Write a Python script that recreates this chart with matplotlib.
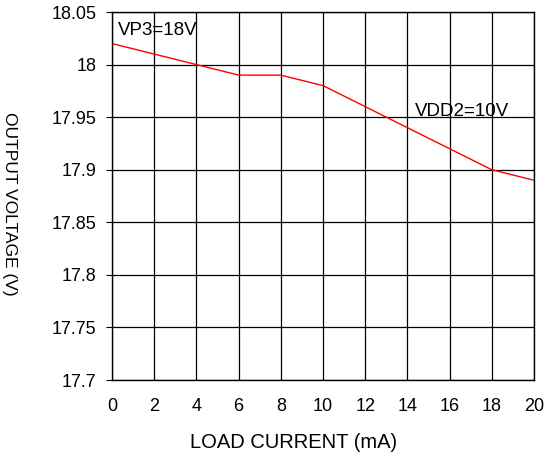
import matplotlib
matplotlib.use('Agg')
import matplotlib.pyplot as plt

plt.rcParams['font.family'] = ['Liberation Sans', 'DejaVu Sans']

current = [0, 2, 4, 6, 8, 10, 12, 14, 16, 18, 20]
voltage = [18.02, 18.01, 18.00, 17.99, 17.99, 17.98, 17.96, 17.94, 17.92, 17.90, 17.89]
x_ticks = [0, 2, 4, 6, 8, 10, 12, 14, 16, 18, 20]
y_ticks = [17.7, 17.75, 17.8, 17.85, 17.9, 17.95, 18.0, 18.05]
y_labels = ['17.7', '17.75', '17.8', '17.85', '17.9', '17.95', '18', '18.05']

fig = plt.figure(figsize=(5.47, 4.55), dpi=100)
ax = fig.add_axes([0.2048, 0.1648, 0.7714, 0.8088])

ax.plot(current, voltage, color='red', linewidth=1)

ax.set_xlim(0, 20)
ax.set_ylim(17.7, 18.05)
ax.set_xticks(x_ticks)
ax.set_yticks(y_ticks)
ax.set_yticklabels(y_labels)
ax.grid(True, color='black', linewidth=0.9)
ax.tick_params(axis='x', length=0, pad=13, labelsize=13)
ax.tick_params(axis='y', length=4, pad=7, labelsize=13, direction='out')
for s in ax.spines.values():
    s.set_linewidth(1)

ax.set_xlabel('LOAD CURRENT (mA)', fontsize=14.5)
ax.xaxis.set_label_coords(0.43, -0.145)
ax.set_ylabel('OUTPUT VOLTAGE (V)', fontsize=12.5, rotation=-90)
ax.yaxis.set_label_coords(-0.26, 0.48)

ax.text(0.28, 18.032, 'VP3=18V', fontsize=13.5, va='center')
ax.text(14.36, 17.955, 'VDD2=10V', fontsize=13.5, va='center')

plt.savefig('out.png', dpi=100)
